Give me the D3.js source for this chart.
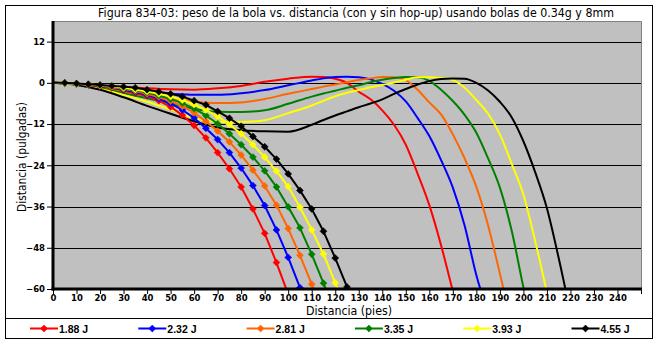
<!DOCTYPE html>
<html><head><meta charset="utf-8">
<script src="https://cdn.jsdelivr.net/npm/d3@7/dist/d3.min.js"></script>
<style>body{margin:0;background:#fff}svg{display:block}</style>
</head><body><svg id="c" width="658" height="341"></svg>
<script>
const chartTitle = "Figura 834-03: peso de la bola vs. distancia (con y sin hop-up) usando bolas de 0.34g y 8mm";
const xTitle = "Distancia (pies)";
const yTitle = "Distancia (pulgadas)";
const seriesNames = ["1.88 J", "2.32 J", "2.81 J", "3.35 J", "3.93 J", "4.55 J"];
const seriesColors = ["#ff0000", "#0000ff", "#ff6600", "#008000", "#ffff00", "#000000"];
const xTickValues = [0,10,20,30,40,50,60,70,80,90,100,110,120,130,140,150,160,170,180,190,200,210,220,230,240,250];
const xTickLabels = ["0","10","20","30","40","50","60","70","80","90","100","110","120","130","140","150","160","170","180","190","200","210","220","230","240",""];
const yTickValues = [-60,-48,-36,-24,-12,0,12];

// with hop-up (smooth lines, no markers)
const hopX = [0,10,20,30,40,50,60,70,80,90,100,110,115,120,125,130,135,140,145,150,155,160,165,170,175,180,185,190,195,200,205,210,215,220];
const hopRed    = [0,-0.3,-0.8,-1.2,-1.6,-1.9,-2.0,-1.6,-0.9,0.3,1.2,1.8,1.7,1.2,0.0,-2.6,-4.8,-8.0,-12.2,-18.0,-26.4,-35.6,-47.3,-60.7,null,null,null,null,null,null,null,null,null,null];
const hopBlue   = [0,-0.4,-1.2,-2.0,-2.7,-3.2,-3.5,-3.5,-3.0,-2.1,-0.7,0.7,1.3,1.7,1.8,1.6,1.0,-0.3,-2.3,-5.4,-10.2,-15.5,-22.5,-30.5,-41.5,-56.0,-67.0,null,null,null,null,null,null,null];
const hopOrange = [0,-0.4,-1.4,-2.5,-3.5,-4.5,-5.5,-5.9,-5.7,-4.7,-3.2,-1.8,-1.1,-0.5,0.2,0.8,1.3,1.7,1.6,0.8,-2.0,-5.7,-9.2,-15.0,-22.0,-30.3,-41.5,-55.5,-70.0,null,null,null,null,null];
const hopGreen  = [0,-0.5,-1.6,-3.0,-4.5,-6.0,-7.6,-8.4,-8.5,-8.0,-6.1,-4.0,-3.1,-2.3,-1.4,-0.7,0.2,0.9,1.4,1.7,1.6,0.6,-2.0,-5.3,-9.3,-14.5,-22.0,-30.5,-43.0,-59.5,-75.0,null,null,null];
const hopYellow = [0,-0.5,-1.8,-3.5,-5.5,-7.8,-10.3,-11.3,-11.4,-10.9,-8.8,-6.6,-5.2,-3.9,-2.9,-2.1,-1.3,-0.6,0.1,0.9,1.6,1.6,1.4,0.8,-1.4,-5.0,-9.0,-15.0,-23.5,-32.5,-46.0,-61.0,null,null];
const hopBlack  = [0,-0.6,-2.0,-4.2,-6.7,-9.0,-11.2,-13.0,-13.8,-14.1,-14.2,-12.2,-10.8,-9.5,-8.3,-7.1,-6.0,-4.8,-3.2,-1.8,-0.5,0.5,1.1,1.3,1.2,0.0,-2.2,-5.5,-10.0,-17.0,-26.0,-36.5,-51.0,-67.0];

// without hop-up (straight segments with diamond markers)
const noHopX = [0,5,10,15,20,25,30,35,40,45,50,55,60,65,70,75,80,85,90,95,100,105,110,115,120,125];
const noHopRed    = [0,-0.1,-0.3,-0.6,-1.0,-1.5,-2.2,-3.0,-3.8,-5.2,-7.0,-9.4,-12.4,-16.0,-20.3,-25.0,-30.3,-36.7,-43.8,-52.3,-61.5,null,null,null,null,null];
const noHopBlue   = [0,-0.1,-0.3,-0.55,-0.9,-1.35,-2.0,-2.7,-3.5,-4.6,-6.0,-7.9,-10.2,-13.2,-16.5,-20.3,-24.8,-29.9,-35.7,-42.8,-50.8,-59.6,-68.0,null,null,null];
const noHopOrange = [0,-0.1,-0.27,-0.5,-0.8,-1.25,-1.75,-2.4,-3.2,-4.1,-5.3,-6.8,-8.7,-11.2,-14.0,-17.2,-21.0,-25.4,-30.0,-35.6,-42.4,-50.2,-58.6,-67.0,null,null];
const noHopGreen  = [0,-0.1,-0.25,-0.45,-0.75,-1.1,-1.6,-2.2,-2.85,-3.7,-4.7,-5.9,-7.5,-9.5,-11.9,-14.8,-18.0,-21.6,-25.6,-30.3,-36.1,-42.2,-49.9,-58.3,-67.0,null];
const noHopYellow = [0,-0.1,-0.25,-0.45,-0.7,-1.0,-1.45,-1.95,-2.5,-3.2,-4.0,-5.0,-6.3,-7.9,-9.8,-12.1,-14.8,-18.0,-21.6,-25.7,-30.2,-36.2,-42.8,-49.8,-58.2,-67.0];
const noHopBlack  = [0,0,-0.2,-0.4,-0.6,-0.9,-1.1,-1.4,-2.0,-2.6,-3.2,-4.0,-5.2,-6.4,-8.3,-10.3,-12.6,-15.6,-18.6,-22.2,-26.5,-31.3,-36.7,-43.2,-51.0,-59.4];

const hopSeries = [hopRed, hopBlue, hopOrange, hopGreen, hopYellow, hopBlack];
const noHopSeries = [noHopRed, noHopBlue, noHopOrange, noHopGreen, noHopYellow, noHopBlack];

const svg = d3.select("#c");
const P = {l: 53, r: 641, t: 21, b: 289};
const x = d3.scaleLinear().domain([0, 250]).range([P.l, P.r]);
const y = d3.scaleLinear().domain([-60, 18]).range([P.b, P.t]);
const FONT = "DejaVu Sans, Verdana, sans-serif";

// outer border
svg.append("rect").attr("x", 5.5).attr("y", 5.5).attr("width", 647).attr("height", 333)
  .attr("fill", "#fff").attr("stroke", "#000").attr("stroke-width", 1);

// title
svg.append("text").attr("x", 356).attr("y", 17).attr("text-anchor", "middle")
  .attr("font-family", FONT).attr("font-size", 11.5)
  .attr("textLength", 516).attr("lengthAdjust", "spacingAndGlyphs")
  .text(chartTitle);

// plot background
svg.append("rect").attr("x", P.l).attr("y", P.t).attr("width", P.r - P.l).attr("height", P.b - P.t)
  .attr("fill", "#c0c0c0");
svg.append("path").attr("d", `M${P.l},${P.t + 0.5}H${P.r + 0.5}V${P.b}`)
  .attr("fill", "none").attr("stroke", "#808080").attr("stroke-width", 1);

// gridlines
svg.append("g").selectAll("line").data(yTickValues.filter(v => v > -60)).join("line")
  .attr("x1", P.l).attr("x2", P.r)
  .attr("y1", d => Math.round(y(d)) + 0.5).attr("y2", d => Math.round(y(d)) + 0.5)
  .attr("stroke", "#000").attr("stroke-width", 1);

// clip
svg.append("clipPath").attr("id", "clip").append("rect")
  .attr("x", P.l).attr("y", P.t).attr("width", P.r - P.l).attr("height", P.b - P.t);
const plot = svg.append("g").attr("clip-path", "url(#clip)");

const hopLine = d3.line().defined(d => d[1] !== null)
  .x(d => x(d[0])).y(d => y(d[1])).curve(d3.curveMonotoneX);
const noHopLine = d3.line().defined(d => d[1] !== null)
  .x(d => x(d[0])).y(d => y(d[1]));
const diamond = d3.symbol().type(d3.symbolDiamond2).size(30);

hopSeries.forEach((vals, i) => {
  const pts = hopX.map((xv, j) => [xv, vals[j]]);
  plot.append("path").attr("d", hopLine(pts)).attr("fill", "none")
    .attr("stroke", seriesColors[i]).attr("stroke-width", 2).attr("stroke-linejoin", "round");
});
noHopSeries.forEach((vals, i) => {
  const pts = noHopX.map((xv, j) => [xv, vals[j]]).filter(d => d[1] !== null);
  plot.append("path").attr("d", noHopLine(pts)).attr("fill", "none")
    .attr("stroke", seriesColors[i]).attr("stroke-width", 2).attr("stroke-linejoin", "round");
  plot.append("g").selectAll("path").data(pts.filter(d => d[0] > 0)).join("path")
    .attr("d", diamond).attr("transform", d => `translate(${x(d[0])},${y(d[1])})`)
    .attr("fill", seriesColors[i]).attr("stroke", seriesColors[i]).attr("stroke-width", 0.6);
});

// axes
const yAxis = d3.axisLeft(y).tickValues(yTickValues).tickSize(5).tickPadding(2);
const gy = svg.append("g").attr("transform", `translate(${P.l - 1},0)`).call(yAxis);
gy.select(".domain").remove();
gy.selectAll(".tick line").attr("stroke", "#000");
gy.selectAll(".tick text").attr("font-family", FONT)
  .attr("font-weight", "bold").attr("font-size", 8.5).attr("fill", "#000");

const xAxis = d3.axisBottom(x).tickValues(xTickValues).tickSize(5).tickPadding(1)
  .tickFormat((d, i) => xTickLabels[i]);
const gx = svg.append("g").attr("transform", `translate(0,${P.b})`).call(xAxis);
gx.select(".domain").remove();
gx.selectAll(".tick line").attr("stroke", "#000");
gx.selectAll(".tick text").attr("font-family", FONT)
  .attr("font-weight", "bold").attr("font-size", 8.5).attr("fill", "#000");

svg.append("line").attr("x1", P.l).attr("x2", P.l).attr("y1", P.t).attr("y2", P.b + 1.5)
  .attr("stroke", "#000").attr("stroke-width", 3);
svg.append("line").attr("x1", P.l - 1.5).attr("x2", P.r + 1).attr("y1", P.b).attr("y2", P.b)
  .attr("stroke", "#000").attr("stroke-width", 3);

// axis titles
svg.append("text").attr("x", 349).attr("y", 315).attr("text-anchor", "middle")
  .attr("font-family", FONT).attr("font-size", 11.5)
  .attr("textLength", 86).attr("lengthAdjust", "spacingAndGlyphs").text(xTitle);
svg.append("text").attr("transform", "translate(26,157) rotate(-90)").attr("text-anchor", "middle")
  .attr("font-family", FONT).attr("font-size", 11.5)
  .attr("textLength", 110).attr("lengthAdjust", "spacingAndGlyphs").text(yTitle);

// legend
svg.append("rect").attr("x", 5.5).attr("y", 318.5).attr("width", 647).attr("height", 20)
  .attr("fill", "#fff").attr("stroke", "#000").attr("stroke-width", 1);
const lg = svg.append("g").selectAll("g").data(seriesNames).join("g")
  .attr("transform", (d, i) => `translate(${30 + i * 108.3},328.5)`);
lg.append("line").attr("x1", 0).attr("x2", 28).attr("stroke", (d, i) => seriesColors[i]).attr("stroke-width", 2);
lg.append("path").attr("d", diamond).attr("transform", "translate(14,0)")
  .attr("fill", (d, i) => seriesColors[i]).attr("stroke", (d, i) => seriesColors[i]).attr("stroke-width", 0.6);
lg.append("text").attr("x", 29).attr("y", 4).attr("font-family", "Liberation Sans, Arial, sans-serif")
  .attr("font-weight", "bold").attr("font-size", 10.5).text(d => d);
</script></body></html>
